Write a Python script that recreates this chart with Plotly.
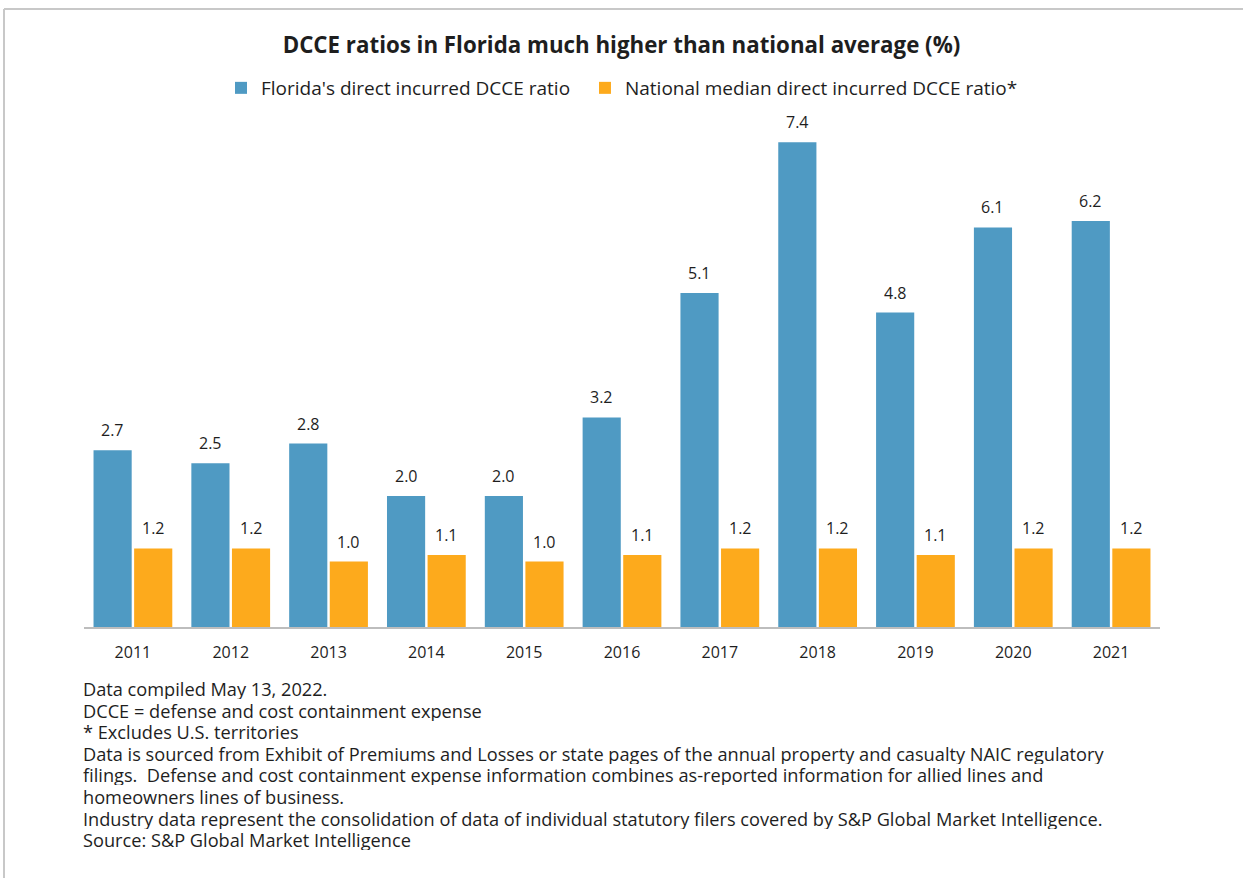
import plotly.graph_objects as go

# ---------------------------------------------------------------------------
# Data
# ---------------------------------------------------------------------------
years = ["2011", "2012", "2013", "2014", "2015", "2016", "2017", "2018", "2019", "2020", "2021"]
florida_ratio = [2.7, 2.5, 2.8, 2.0, 2.0, 3.2, 5.1, 7.4, 4.8, 6.1, 6.2]
national_ratio = [1.2, 1.2, 1.0, 1.1, 1.0, 1.1, 1.2, 1.2, 1.1, 1.2, 1.2]

footnotes = [
    "Data compiled May 13, 2022.",
    "DCCE = defense and cost containment expense",
    "* Excludes U.S. territories",
    "Data is sourced from Exhibit of Premiums and Losses or state pages of the annual property and casualty NAIC regulatory",
    "filings.  Defense and cost containment expense information combines as-reported information for allied lines and",
    "homeowners lines of business.",
    "Industry data represent the consolidation of data of individual statutory filers covered by S&P Global Market Intelligence.",
    "Source: S&P Global Market Intelligence",
]

BLUE = "#4F9AC3"
ORANGE = "#FDAA1C"
TEXT = "#1E1E1E"
FONT = "Open Sans, Arial, sans-serif"

fig = go.Figure()
fig.add_trace(go.Bar(
    x=years, y=florida_ratio, name="Florida's direct incurred DCCE ratio\u00a0\u00a0",
    marker=dict(color=BLUE, line=dict(width=0)),
))
fig.add_trace(go.Bar(
    x=years, y=national_ratio, name="National median direct incurred DCCE ratio*",
    marker=dict(color=ORANGE, line=dict(width=0)),
))

# value labels above each bar (bars sit ~20px either side of the category centre);
# on a category axis the annotation x is the category index
for series, dx in ((florida_ratio, -20.3), (national_ratio, 20.3)):
    for i, v in enumerate(series):
        fig.add_annotation(x=i, y=v, xref="x", yref="y", text=f"{v:.1f}", showarrow=False,
                           xanchor="center", yanchor="bottom", xshift=dx, yshift=7,
                           font=dict(size=16, color=TEXT))

fig.update_layout(
    width=1243, height=878,
    paper_bgcolor="white", plot_bgcolor="white",
    font=dict(family=FONT, color=TEXT, size=15),
    title=dict(text="<b>DCCE ratios in Florida much higher than national average (%)</b>",
               x=0.5, xanchor="center", y=1 - 45 / 878, yanchor="middle",
               font=dict(size=22.3, color=TEXT)),
    legend=dict(orientation="h", x=0.5, xanchor="center", y=1.0 + (103 - 88) / 524,
                yanchor="middle", font=dict(size=19), itemsizing="constant",
                traceorder="normal"),
    margin=dict(l=84, r=83, t=103, b=251),
    barmode="group", bargap=0.17, bargroupgap=0.06,
    showlegend=True,
)
fig.update_xaxes(type="category", range=[-0.5, len(years) - 0.5], showline=True,
                 linecolor="#BDBDBD", linewidth=2, ticks="",
                 tickfont=dict(size=16), ticklabelstandoff=10, showgrid=False)
fig.update_yaxes(range=[0, 8], visible=False, showgrid=False)

# footnotes below the plot
for i, line in enumerate(footnotes):
    fig.add_annotation(text=line, xref="paper", yref="paper", x=0, y=0,
                       xanchor="left", yanchor="middle", showarrow=False,
                       xshift=-3, yshift=-(689 - 627) - i * 21.6,
                       height=20, valign="middle",
                       font=dict(size=18.2, color=TEXT))

# light frame lines (top and left)
fig.add_shape(type="line", xref="paper", yref="paper",
              x0=(4 - 84) / 1076, x1=(1243 - 84) / 1076,
              y0=(627 - 9) / 524, y1=(627 - 9) / 524,
              line=dict(color="#C8C8C8", width=2))
fig.add_shape(type="line", xref="paper", yref="paper",
              x0=(4 - 84) / 1076, x1=(4 - 84) / 1076,
              y0=(627 - 9) / 524, y1=(627 - 878) / 524,
              line=dict(color="#C8C8C8", width=2))

fig.write_html("out.html", config={"displayModeBar": False},
               post_script="document.body.style.margin='0';")
